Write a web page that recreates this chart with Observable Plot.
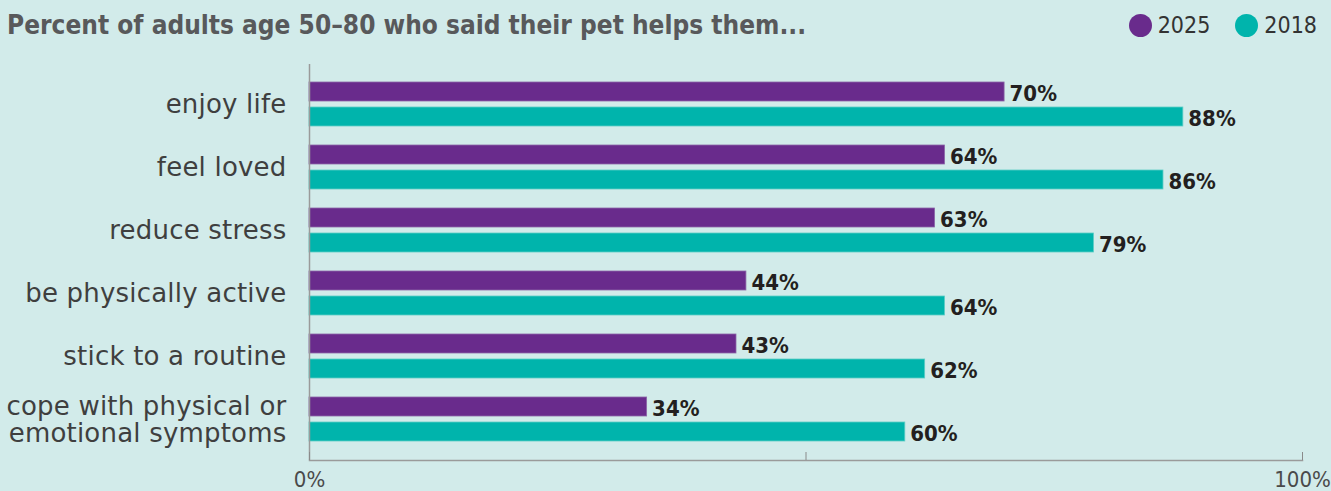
<!DOCTYPE html>
<html>
<head>
<meta charset="utf-8">
<script src="https://cdn.jsdelivr.net/npm/d3@7"></script>
<script src="https://cdn.jsdelivr.net/npm/@observablehq/plot@0.6"></script>
<style>
  html, body { margin: 0; padding: 0; background: #d2ebea; }
  #wrap { width: 1331px; height: 491px; position: relative; overflow: hidden; }
  #header { position: relative; height: 55px; }
  #title { position: absolute; left: 7px; top: 12px; font-family: "Liberation Sans Narrow", "DejaVu Sans Condensed", "Liberation Sans", sans-serif; font-stretch: condensed; font-weight: bold; font-size: 26px; line-height: 1; color: #58595b; white-space: nowrap; }
  #legend { position: absolute; right: 14px; top: 0; height: 50px; display: flex; align-items: center; font-family: "Liberation Sans Narrow", "DejaVu Sans Condensed", sans-serif; font-stretch: condensed; font-size: 23px; line-height: 1; color: #333; }
  .sw { display: inline-block; width: 23px; height: 23px; border-radius: 50%; margin-right: 6px; }
  .item { display: flex; align-items: center; margin-left: 25px; }
  #chart g[aria-label="y-axis tick label"] text { letter-spacing: 0.2px; }
</style>
</head>
<body>
<div id="wrap">
  <div id="header">
    <div id="title"></div>
    <div id="legend"></div>
  </div>
  <div id="chart"></div>
</div>
<script>
const titleText = "Percent of adults age 50–80 who said their pet helps them...";
const categories = [
  "enjoy life",
  "feel loved",
  "reduce stress",
  "be physically active",
  "stick to a routine",
  "cope with physical or\nemotional symptoms"
];
const seriesNames = ["2025", "2018"];
const seriesColors = ["#692b8c", "#00b4ac"];
const values2025 = [70, 64, 63, 44, 43, 34];
const values2018 = [88, 86, 79, 64, 62, 60];
const xTickValues = [0, 50, 100];
const xLabelValues = [0, 100];

document.getElementById("title").textContent = titleText;
const legend = document.getElementById("legend");
seriesNames.forEach((s, i) => {
  const item = document.createElement("div");
  item.className = "item";
  const sw = document.createElement("span");
  sw.className = "sw";
  sw.style.background = seriesColors[i];
  const t = document.createElement("span");
  t.textContent = s;
  item.appendChild(sw);
  item.appendChild(t);
  legend.appendChild(item);
});

const rows2025 = categories.map((c, i) => ({category: c, series: "2025", value: values2025[i]}));
const rows2018 = categories.map((c, i) => ({category: c, series: "2018", value: values2018[i]}));

const labelFont = "'Liberation Sans Narrow', 'DejaVu Sans Condensed', sans-serif";

const chart = Plot.plot({
  width: 1331,
  height: 436,
  marginLeft: 309,
  marginRight: 29,
  marginTop: 9,
  marginBottom: 31,
  style: {background: "transparent", overflow: "visible"},
  x: {domain: [0, 100], axis: null},
  y: {domain: categories, paddingInner: 0.299, paddingOuter: 0.268, axis: null},
  marks: [
    Plot.barX(rows2025, {x: "value", y: "category", fill: seriesColors[0], stroke: "#8c66a8", strokeWidth: 0.8, insetBottom: 25}),
    Plot.barX(rows2018, {x: "value", y: "category", fill: seriesColors[1], stroke: "#5ccdc6", strokeWidth: 0.8, insetTop: 25}),
    Plot.text(rows2025, {x: "value", y: "category", text: d => d.value + "%", dy: -11, dx: 5, textAnchor: "start", fontSize: 22, fontWeight: "bold", fontFamily: labelFont, fill: "#231f20"}),
    Plot.text(rows2018, {x: "value", y: "category", text: d => d.value + "%", dy: 14, dx: 5, textAnchor: "start", fontSize: 22, fontWeight: "bold", fontFamily: labelFont, fill: "#231f20"}),
    Plot.frame({anchor: "bottom", stroke: "#9a9a9a", strokeWidth: 1.5}),
    Plot.ruleX([0], {stroke: "#9a9a9a", strokeWidth: 1.5}),
    Plot.axisX({ticks: xTickValues, tickSize: -8, text: null, stroke: "#8a8a8a", label: null}),
    Plot.axisX({ticks: xLabelValues, tickSize: 0, tickPadding: 11, tickFormat: d => d + "%", fontSize: 22, fontFamily: labelFont, fill: "#4a4a4a", label: null}),
    Plot.axisY({tickSize: 0, tickPadding: 23, fontSize: 26, fontFamily: "'DejaVu Sans', sans-serif", fill: "#3f3f3f", lineHeight: 1.04, label: null})
  ]
});
document.getElementById("chart").appendChild(chart);
</script>
</body>
</html>
